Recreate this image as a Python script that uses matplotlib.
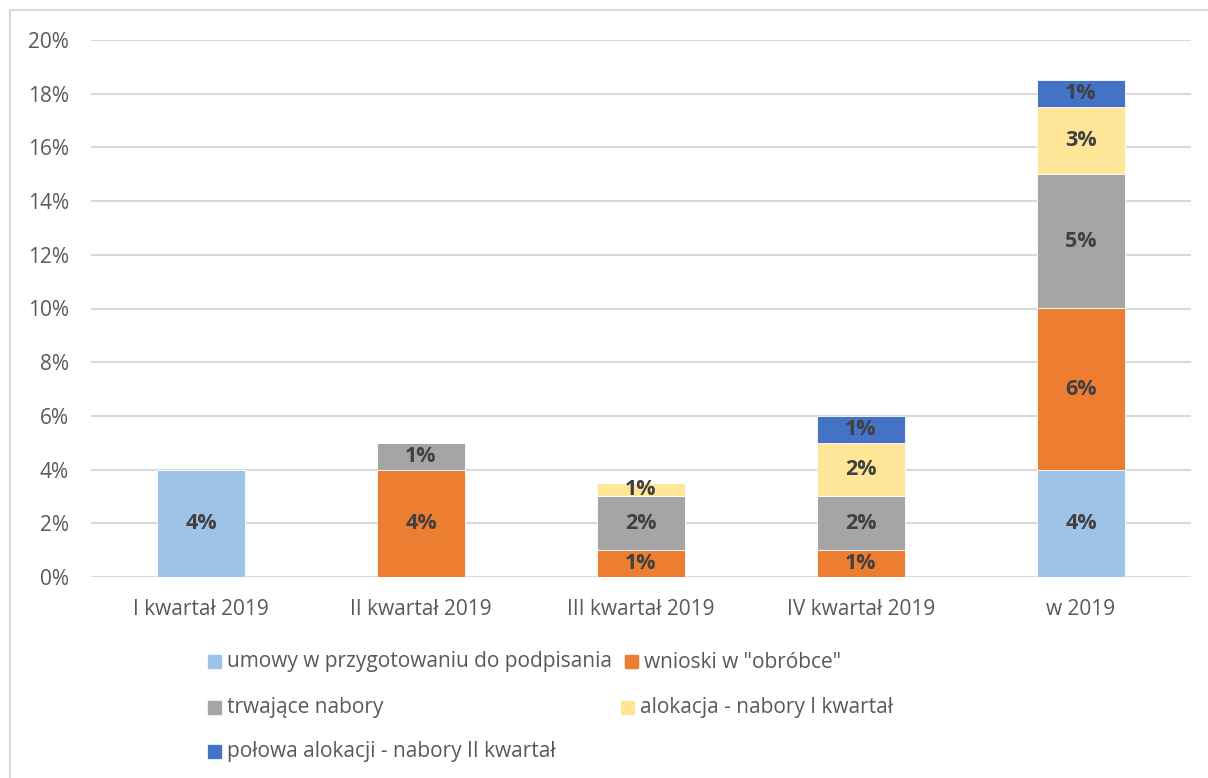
import numpy as np
import matplotlib
matplotlib.use("Agg")
import matplotlib.pyplot as plt
from matplotlib.patches import Rectangle

plt.rcParams['font.family'] = ['Open Sans', 'DejaVu Sans']

kategorie = ['I kwartał 2019', 'II kwartał 2019', 'III kwartał 2019', 'IV kwartał 2019', 'w 2019']
serie = ['umowy w przygotowaniu do podpisania', 'wnioski w "obróbce"', 'trwające nabory',
         'alokacja - nabory I kwartał', 'połowa alokacji - nabory II kwartał']
umowy = [4, 0, 0, 0, 4]
wnioski = [0, 4, 1, 1, 6]
trwajace = [0, 1, 2, 2, 5]
alokacja = [0, 0, 0.5, 2, 2.5]
polowa = [0, 0, 0, 1, 1]
kolory = ['#9DC3E6', '#ED7D31', '#A5A5A5', '#FFE699', '#4472C4']

dane = [umowy, wnioski, trwajace, alokacja, polowa]

fig = plt.figure(figsize=(12.08, 7.78), dpi=100)
ax = fig.add_axes([91/1208, 1-577/778, 1100/1208, 537/778])

x = np.arange(len(kategorie))
dol = np.zeros(len(kategorie))
for vals, kol in zip(dane, kolory):
    v = np.array(vals, dtype=float)
    ax.bar(x, v, 0.4, bottom=dol, color=kol, edgecolor='white', linewidth=0.6, zorder=3)
    for xi, b, h in zip(x, dol, v):
        if h > 0:
            ax.text(xi, b + h/2, '%d%%' % int(h + 0.5), ha='center', va='center',
                    fontsize=15.5, fontweight='bold', color='#404040', zorder=4)
    dol += v

ax.set_xlim(-0.5, len(kategorie) - 0.5)
ax.set_ylim(0, 20)
ax.set_yticks(range(0, 21, 2))
ax.set_yticklabels(['%d%%' % t for t in range(0, 21, 2)])
ax.set_xticks(x)
ax.set_xticklabels(kategorie)
ax.tick_params(length=0, labelsize=15, labelcolor='#595959')
ax.tick_params(axis='y', pad=16)
ax.tick_params(axis='x', pad=16)
ax.grid(axis='y', color='#D9D9D9', linewidth=1.5, zorder=0)
for s in ax.spines.values():
    s.set_visible(False)

# ramka wykresu
fig.patches.append(Rectangle((10/1208, -0.1), 1.2, 1 - 10/778 + 0.1, transform=fig.transFigure,
                             fill=False, edgecolor='#D9D9D9', linewidth=1.5))

# legenda w ukladzie jak w Excelu
poz = [(208, 662), (625, 662), (208, 708), (621, 708), (208, 752)]
for (px, py), nazwa, kol in zip(poz, serie, kolory):
    fig.patches.append(Rectangle((px/1208, 1 - (py + 6)/778), 13/1208, 13/778,
                                 transform=fig.transFigure, color=kol))
    fig.text((px + 19)/1208, 1 - py/778, nazwa, fontsize=15, color='#595959', va='center')

fig.savefig('out.png', dpi=100)
